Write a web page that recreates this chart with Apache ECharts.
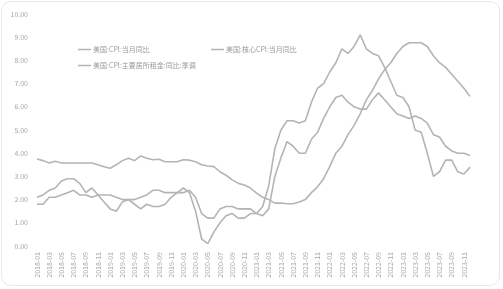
<!DOCTYPE html>
<html><head><meta charset="utf-8">
<script src="https://cdn.jsdelivr.net/npm/echarts@6/dist/echarts.min.js"></script>
<style>
html,body{margin:0;padding:0;background:#fff;}
#card{position:absolute;left:1px;top:1px;width:499px;height:285px;border:1px solid #e9e9e9;border-radius:10px;box-sizing:border-box;}
#c{position:absolute;left:0;top:0;width:503px;height:289px;}
</style></head>
<body>
<div id="card"></div>
<div id="c"></div>
<script>
const months = [];
for (let y = 2018; y <= 2023; y++) for (let m = 1; m <= 12; m++) months.push(y + '-' + String(m).padStart(2, '0'));

const seriesNames = ['美国:CPI:当月同比', '美国:核心CPI:当月同比', '美国:CPI:主要居所租金:同比:季调'];

const cpi = [
  2.1, 2.2, 2.4, 2.5, 2.8, 2.9, 2.9, 2.7, 2.3, 2.5, 2.2, 1.9,
  1.6, 1.5, 1.9, 2.0, 1.8, 1.6, 1.8, 1.7, 1.7, 1.8, 2.1, 2.3,
  2.5, 2.3, 1.5, 0.3, 0.1, 0.6, 1.0, 1.3, 1.4, 1.2, 1.2, 1.4,
  1.4, 1.7, 2.6, 4.2, 5.0, 5.4, 5.4, 5.3, 5.4, 6.2, 6.8, 7.0,
  7.5, 7.9, 8.5, 8.3, 8.6, 9.1, 8.5, 8.3, 8.2, 7.7, 7.1, 6.5,
  6.4, 6.0, 5.0, 4.9, 4.0, 3.0, 3.2, 3.7, 3.7, 3.2, 3.1, 3.4
];
const coreCpi = [
  1.8, 1.8, 2.1, 2.1, 2.2, 2.3, 2.4, 2.2, 2.2, 2.1, 2.2, 2.2,
  2.2, 2.1, 2.0, 2.0, 2.0, 2.1, 2.2, 2.4, 2.4, 2.3, 2.3, 2.3,
  2.3, 2.4, 2.1, 1.4, 1.2, 1.2, 1.6, 1.7, 1.7, 1.6, 1.6, 1.6,
  1.4, 1.3, 1.6, 3.0, 3.8, 4.5, 4.3, 4.0, 4.0, 4.6, 4.9, 5.5,
  6.0, 6.4, 6.5, 6.2, 6.0, 5.9, 5.9, 6.3, 6.6, 6.3, 6.0, 5.7,
  5.6, 5.5, 5.6, 5.5, 5.3, 4.8, 4.7, 4.3, 4.1, 4.0, 4.0, 3.9
];
const rent = [
  3.75, 3.68, 3.58, 3.65, 3.58, 3.58, 3.58, 3.58, 3.58, 3.58, 3.5, 3.42,
  3.35, 3.5, 3.68, 3.78, 3.68, 3.88, 3.78, 3.72, 3.74, 3.63, 3.63, 3.63,
  3.72, 3.7, 3.63, 3.5, 3.45, 3.42, 3.2, 3.05, 2.85, 2.7, 2.63, 2.5,
  2.28, 2.1, 2.0, 1.85, 1.85, 1.82, 1.82, 1.9, 2.0, 2.3, 2.55, 2.9,
  3.42, 4.0, 4.3, 4.8, 5.2, 5.7, 6.3, 6.7, 7.2, 7.6, 7.9, 8.3,
  8.6, 8.76, 8.76, 8.76, 8.6, 8.2, 7.9, 7.7, 7.4, 7.1, 6.8, 6.45
];
const yTicks = [0, 1, 2, 3, 4, 5, 6, 7, 8, 9, 10];

const lineColor = '#b4b4b4';
const textColor = '#a6a6a6';
const fontFamily = '"Noto Sans CJK SC", "Noto Sans", sans-serif';

function mkLegend(name, left, top) {
  return {
    data: [name], left: left, top: top, icon: 'rect', itemWidth: 13, itemHeight: 1.5, itemGap: 0,
    textStyle: { fontSize: 7, color: '#9a9a9a', fontFamily: fontFamily, padding: [0, 0, 0, -3] },
    padding: 0
  };
}

const chart = echarts.init(document.getElementById('c'), null, { renderer: 'canvas' });
chart.setOption({
  animation: false,
  backgroundColor: 'transparent',
  legend: [
    mkLegend(seriesNames[0], 78, 46),
    mkLegend(seriesNames[1], 211, 46),
    mkLegend(seriesNames[2], 78, 62)
  ],
  grid: { left: 37, right: 33, top: 14, bottom: 43 },
  xAxis: {
    type: 'category', data: months, boundaryGap: false,
    axisLine: { show: false }, axisTick: { show: false },
    axisLabel: { interval: 1, rotate: 90, fontSize: 7, color: textColor, margin: 6, fontFamily: fontFamily }
  },
  yAxis: {
    type: 'value', min: yTicks[0], max: yTicks[yTicks.length - 1], interval: 1,
    axisLine: { show: false }, axisTick: { show: false }, splitLine: { show: false },
    axisLabel: { fontSize: 7, color: textColor, margin: 9, fontFamily: fontFamily, formatter: v => v.toFixed(2) }
  },
  series: [
    { name: seriesNames[0], type: 'line', data: cpi, showSymbol: false, lineStyle: { width: 1.6, color: lineColor }, itemStyle: { color: lineColor } },
    { name: seriesNames[1], type: 'line', data: coreCpi, showSymbol: false, lineStyle: { width: 1.6, color: lineColor }, itemStyle: { color: lineColor } },
    { name: seriesNames[2], type: 'line', data: rent, showSymbol: false, lineStyle: { width: 1.6, color: lineColor }, itemStyle: { color: lineColor } }
  ]
});
</script>
</body></html>
